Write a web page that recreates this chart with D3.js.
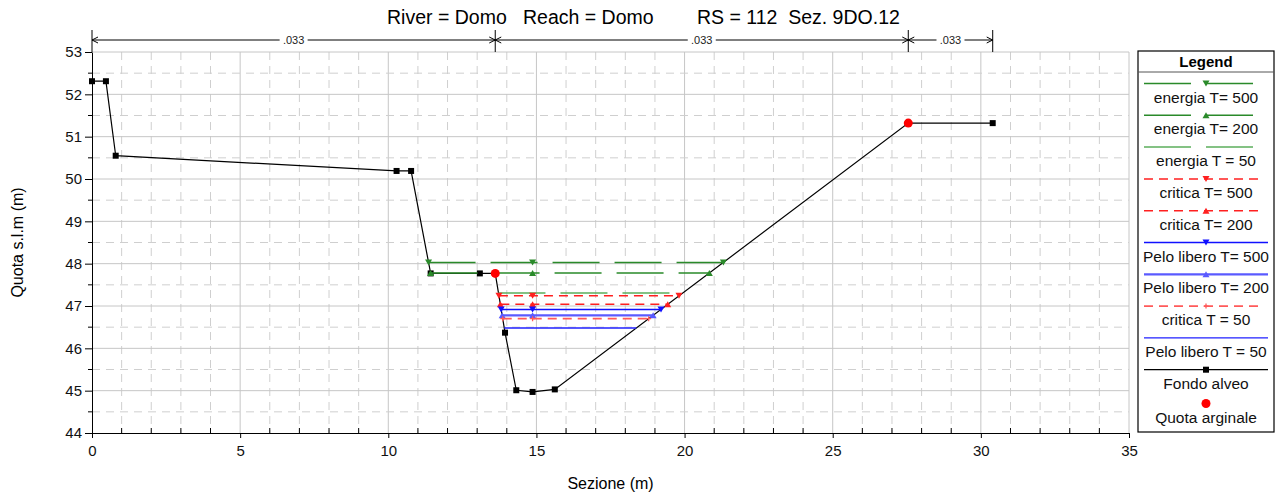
<!DOCTYPE html>
<html>
<head>
<meta charset="utf-8">
<script src="https://cdn.jsdelivr.net/npm/d3@7"></script>
<style>
  body { margin: 0; background: #fff; }
  svg { font-family: "Liberation Sans", Arial, sans-serif; }
</style>
</head>
<body>
<svg id="chart" width="1278" height="498"></svg>
<script>
// ground profile (Fondo alveo)
const groundStation = [0, 0.47, 0.80, 10.28, 10.77, 11.43, 13.09, 13.61, 13.94, 14.32, 14.87, 15.62, 27.55, 30.40];
const groundElev    = [52.31, 52.31, 50.55, 50.19, 50.19, 47.77, 47.77, 47.77, 46.37, 45.01, 44.97, 45.03, 51.32, 51.32];

// bank stations (Quota arginale)
const bankStation = [13.61, 27.55];
const bankElev    = [47.77, 51.32];

// Manning's n along the top
const manningStation = [0, 13.61, 27.55, 30.40];
const manningValue   = [".033", ".033", ".033"];

// water / energy profiles, legend order
const profileNames = ["energia T= 500", "energia T= 200", "energia T = 50", "critica T= 500", "critica T= 200",
                      "Pelo libero T= 500", "Pelo libero T= 200", "critica T = 50", "Pelo libero T = 50"];
const profileElev  = [48.03, 47.78, 47.31, 47.24, 47.04, 46.92, 46.78, 46.70, 46.48];

const xTicks = [0, 5, 10, 15, 20, 25, 30, 35];
const yTicks = [44, 45, 46, 47, 48, 49, 50, 51, 52, 53];

// drawing styles, by profile index
const profileStyle = [
  { color: "#2a8a2a", width: 1.5, dash: "47,15", marker: "down" },
  { color: "#2a8a2a", width: 1.5, dash: "47,15", marker: "up" },
  { color: "#5cae5c", width: 1.5, dash: "47,15", marker: null },
  { color: "#ff2020", width: 1.5, dash: "9,6", marker: "down" },
  { color: "#ff2020", width: 1.5, dash: "9,6", marker: "up" },
  { color: "#1010ff", width: 1.5, dash: null, marker: "down" },
  { color: "#5a5aff", width: 2.2, dash: null, marker: "up" },
  { color: "#ff5a5a", width: 1.8, dash: "9,6", marker: "plus" },
  { color: "#2020ff", width: 1.3, dash: null, marker: null }
];

const svg = d3.select("#chart");
const plotL = 92, plotR = 1129, plotT = 52, plotB = 433;

const x = d3.scaleLinear().domain([0, 35]).range([plotL, plotR]);
const y = d3.scaleLinear().domain([44, 53]).range([plotB, plotT]);

// grid
const grid = svg.append("g");
d3.range(1, 36).forEach(v => {
  grid.append("line")
    .attr("x1", x(v)).attr("x2", x(v)).attr("y1", plotT).attr("y2", plotB)
    .attr("stroke", v % 5 === 0 ? "#c6c6c6" : "#cfcfcf")
    .attr("stroke-width", 1)
    .attr("stroke-dasharray", v % 5 === 0 ? null : "8,6");
});
d3.range(44.5, 53.01, 0.5).forEach(v => {
  const major = Math.abs(v - Math.round(v)) < 0.01;
  grid.append("line")
    .attr("x1", plotL).attr("x2", plotR).attr("y1", y(v)).attr("y2", y(v))
    .attr("stroke", major ? "#c6c6c6" : "#cfcfcf")
    .attr("stroke-width", 1)
    .attr("stroke-dasharray", major ? null : "8,6");
});

// axes
const xAxis = svg.append("g")
  .attr("transform", "translate(0," + plotB + ")")
  .call(d3.axisBottom(x).tickValues(xTicks).tickSize(5).tickPadding(7).tickSizeOuter(0));
const yAxis = svg.append("g")
  .attr("transform", "translate(" + plotL + ",0)")
  .call(d3.axisLeft(y).tickValues(yTicks).tickSize(7).tickPadding(3).tickSizeOuter(0));
[xAxis, yAxis].forEach(a => {
  a.select(".domain").attr("stroke", "#000");
  a.selectAll(".tick text").attr("font-size", 15).attr("font-family", "Liberation Sans, Arial, sans-serif").attr("fill", "#111");
});

// minor ticks
d3.range(1, 35).filter(v => v % 5 !== 0).forEach(v => {
  svg.append("line").attr("x1", x(v)).attr("x2", x(v)).attr("y1", plotB - 5).attr("y2", plotB).attr("stroke", "#000");
});
d3.range(44.5, 53, 1).forEach(v => {
  svg.append("line").attr("x1", plotL - 4).attr("x2", plotL + 1).attr("y1", y(v)).attr("y2", y(v)).attr("stroke", "#000");
});

// title and axis labels
svg.append("text")
  .attr("x", 387).attr("y", 24)
  .attr("font-size", 19.5)
  .style("white-space", "pre")
  .text("River = Domo   Reach = Domo        RS = 112  Sez. 9DO.12");

svg.append("text")
  .attr("transform", "translate(23," + ((plotT + plotB) / 2) + ") rotate(-90)")
  .attr("text-anchor", "middle")
  .attr("font-size", 16)
  .text("Quota s.l.m (m)");

svg.append("text")
  .attr("x", (plotL + plotR) / 2).attr("y", 489)
  .attr("text-anchor", "middle")
  .attr("font-size", 16)
  .text("Sezione (m)");

// Manning's n bar on top
const nY = 40;
const man = svg.append("g").attr("stroke", "#000").attr("fill", "none");
manningStation.forEach(s => {
  man.append("line").attr("x1", x(s)).attr("x2", x(s)).attr("y1", 30).attr("y2", plotT);
});
function arrowHead(g, px, dir) {
  // dir = -1 tip points left, +1 tip points right
  g.append("path")
    .attr("d", `M${px - dir * 6},${nY - 3}L${px},${nY}L${px - dir * 6},${nY + 3}`);
}
manningValue.forEach((n, i) => {
  const a = x(manningStation[i]), b = x(manningStation[i + 1]);
  man.append("line").attr("x1", a).attr("x2", b).attr("y1", nY).attr("y2", nY);
  arrowHead(man, a, -1);
  arrowHead(man, b, 1);
  const mid = (a + b) / 2;
  svg.append("rect").attr("x", mid - 14).attr("y", nY - 6).attr("width", 28).attr("height", 12).attr("fill", "#fff");
  svg.append("text").attr("x", mid).attr("y", nY + 4)
    .attr("text-anchor", "middle").attr("font-size", 11).attr("fill", "#222").text(n);
});

// ground line
const ground = groundStation.map((s, i) => [s, groundElev[i]]);
const line = d3.line().x(d => x(d[0])).y(d => y(d[1]));
svg.append("path").datum(ground)
  .attr("d", line).attr("fill", "none").attr("stroke", "#000").attr("stroke-width", 1.2);
svg.selectAll(".gpt").data(ground.filter(d => !bankStation.includes(d[0]))).enter()
  .append("rect")
  .attr("x", d => x(d[0]) - 3).attr("y", d => y(d[1]) - 3)
  .attr("width", 6).attr("height", 6).attr("fill", "#000");

// find where a level meets the ground, walking out from the thalweg
const lowIdx = d3.minIndex(groundElev);
function extent(level) {
  let i = lowIdx;
  while (i > 0 && groundElev[i - 1] < level) i--;
  const l0 = i - 1, l1 = i;
  const xl = groundStation[l0] + (groundElev[l0] - level) / (groundElev[l0] - groundElev[l1]) * (groundStation[l1] - groundStation[l0]);
  let j = lowIdx;
  while (j < groundElev.length - 1 && groundElev[j + 1] < level) j++;
  const r0 = j, r1 = j + 1;
  const xr = groundStation[r0] + (level - groundElev[r0]) / (groundElev[r1] - groundElev[r0]) * (groundStation[r1] - groundStation[r0]);
  return [xl, xr];
}

function marker(g, type, px, py, color) {
  if (type === "down") {
    g.append("path").attr("d", `M${px - 3.5},${py - 3}L${px + 3.5},${py - 3}L${px},${py + 3}Z`).attr("fill", color);
  } else if (type === "up") {
    g.append("path").attr("d", `M${px - 3.5},${py + 3}L${px + 3.5},${py + 3}L${px},${py - 3}Z`).attr("fill", color);
  } else if (type === "plus") {
    g.append("path").attr("d", `M${px - 2.5},${py}L${px + 2.5},${py}M${px},${py - 2.5}L${px},${py + 2.5}`)
      .attr("stroke", color).attr("stroke-width", 1.3);
  }
}

// profiles
const prof = svg.append("g");
profileElev.forEach((lev, i) => {
  const st = profileStyle[i];
  const [xl, xr] = extent(lev);
  prof.append("line")
    .attr("x1", x(xl)).attr("x2", x(xr)).attr("y1", y(lev)).attr("y2", y(lev))
    .attr("stroke", st.color).attr("stroke-width", st.width)
    .attr("stroke-dasharray", st.dash);
  if (st.marker) {
    [xl, groundStation[lowIdx], xr].forEach(s => marker(prof, st.marker, x(s), y(lev), st.color));
  }
});

// bank stations
svg.selectAll(".bank").data(bankStation).enter()
  .append("circle")
  .attr("cx", d => x(d)).attr("cy", (d, i) => y(bankElev[i]))
  .attr("r", 4.5).attr("fill", "#ff0000");

// legend
const lg = svg.append("g");
const lx0 = 1138, lx1 = 1274, ly0 = 51, ly1 = 432;
lg.append("rect").attr("x", lx0).attr("y", ly0).attr("width", lx1 - lx0).attr("height", ly1 - ly0)
  .attr("fill", "#fff").attr("stroke", "#000").attr("stroke-width", 1.2);
lg.append("line").attr("x1", lx0).attr("x2", lx1).attr("y1", 72).attr("y2", 72).attr("stroke", "#555");
lg.append("text").attr("x", (lx0 + lx1) / 2).attr("y", 67).attr("text-anchor", "middle")
  .attr("font-size", 15).attr("font-weight", "bold").text("Legend");

const cx = 1206, step = 31.8, firstY = 83.5;
profileNames.forEach((name, i) => {
  const st = profileStyle[i];
  const ly = firstY + i * step;
  const end = st.dash === "47,15" ? 1253 : (st.dash ? 1260 : 1268);
  lg.append("line").attr("x1", 1144).attr("x2", end).attr("y1", ly).attr("y2", ly)
    .attr("stroke", st.color).attr("stroke-width", st.width).attr("stroke-dasharray", st.dash);
  if (st.marker) marker(lg, st.marker, cx, ly, st.color);
  lg.append("text").attr("x", cx).attr("y", ly + 19).attr("text-anchor", "middle")
    .attr("font-size", 15.5).attr("fill", "#111").text(name);
});
const fy = firstY + profileNames.length * step;
lg.append("line").attr("x1", 1144).attr("x2", 1268).attr("y1", fy).attr("y2", fy).attr("stroke", "#000").attr("stroke-width", 1.2);
lg.append("rect").attr("x", cx - 3).attr("y", fy - 3).attr("width", 6).attr("height", 6).attr("fill", "#000");
lg.append("text").attr("x", cx).attr("y", fy + 19).attr("text-anchor", "middle").attr("font-size", 15.5).attr("fill", "#111").text("Fondo alveo");
const qy = fy + step + 2;
lg.append("circle").attr("cx", cx).attr("cy", qy).attr("r", 4.5).attr("fill", "#ff0000");
lg.append("text").attr("x", cx).attr("y", qy + 19).attr("text-anchor", "middle").attr("font-size", 15.5).attr("fill", "#111").text("Quota arginale");
</script>
</body>
</html>
